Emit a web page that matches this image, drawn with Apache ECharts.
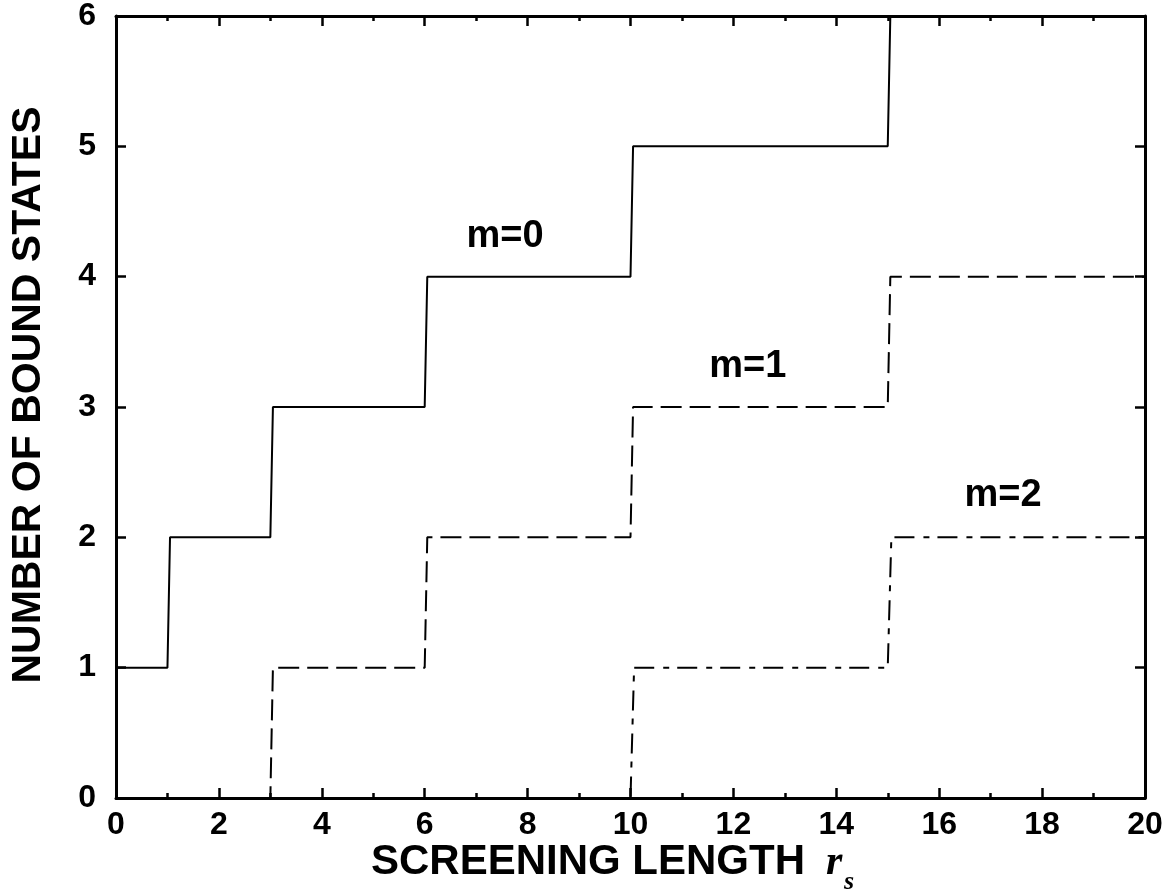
<!DOCTYPE html>
<html>
<head>
<meta charset="utf-8">
<script src="https://cdn.jsdelivr.net/npm/echarts@6/dist/echarts.min.js"></script>
<style>
html,body{margin:0;padding:0;background:#fff;}
#main{width:1176px;height:894px;}
</style>
</head>
<body>
<div id="main"></div>
<script>
// Data: number of bound states vs screening length r_s
var m0X = [0, 1.0, 1.05, 3.0, 3.05, 6.0, 6.05, 10.0, 10.05, 15.0, 15.05, 20];
var m0Y = [1, 1, 2, 2, 3, 3, 4, 4, 5, 5, 6, 6];
var m1X = [0, 3.0, 3.05, 6.0, 6.05, 10.0, 10.05, 15.0, 15.05, 20];
var m1Y = [0, 0, 1, 1, 2, 2, 3, 3, 4, 4];
var m2X = [0, 10.0, 10.07, 15.0, 15.07, 20];
var m2Y = [0, 0, 1, 1, 2, 2];
var curveLabels = ['m=0', 'm=1', 'm=2'];
var curveLabelX = [7.56, 12.28, 17.24];
var curveLabelY = [4.31, 3.31, 2.32];
var xTitle = 'SCREENING LENGTH';
var yTitle = 'NUMBER OF BOUND STATES';

var FONT = "'Liberation Sans', Arial, Helvetica, sans-serif";
function zip(xs, ys){ return xs.map(function(x,i){ return [x, ys[i]]; }); }

var tickStyle = {color:'#000', width:2.5};
function xAx(pos, showLabel){
  return {
    type:'value', min:0, max:20, interval:2, position:pos,
    axisLine:{show:true, onZero:false, lineStyle:{color:'#000', width:3}},
    axisTick:{show:true, inside:true, length:10, lineStyle:tickStyle},
    minorTick:{show:true, splitNumber:2, length:5, lineStyle:tickStyle},
    splitLine:{show:false}, minorSplitLine:{show:false},
    axisLabel:{show:showLabel, margin:11, fontSize:32, fontWeight:'bold', color:'#000', fontFamily:FONT}
  };
}
function yAx(pos, showLabel){
  return {
    type:'value', min:0, max:6, interval:1, position:pos,
    axisLine:{show:true, onZero:false, lineStyle:{color:'#000', width:3}},
    axisTick:{show:true, inside:true, length:10, lineStyle:tickStyle},
    splitLine:{show:false},
    axisLabel:{show:showLabel, margin:20, fontSize:32, fontWeight:'bold', color:'#000', fontFamily:FONT}
  };
}

var chart = echarts.init(document.getElementById('main'), null, {renderer:'canvas'});
chart.setOption({
  animation:false,
  backgroundColor:'#fff',
  grid:{left:116, right:31, top:14, bottom:96, containLabel:false},
  xAxis:[xAx('bottom', true), xAx('top', false)],
  yAxis:[yAx('left', true), yAx('right', false)],
  series:[
    {type:'line', name:'m=0', data:zip(m0X, m0Y), symbol:'none', silent:true,
     lineStyle:{color:'#000', width:2, type:'solid'}},
    {type:'line', name:'m=1', data:zip(m1X, m1Y), symbol:'none', silent:true,
     lineStyle:{color:'#000', width:2, type:[21, 8]}},
    {type:'line', name:'m=2', data:zip(m2X, m2Y), symbol:'none', silent:true,
     lineStyle:{color:'#000', width:2, type:[20, 9, 6, 8]}},
    {type:'scatter', symbolSize:0, silent:true, itemStyle:{opacity:1},
     data:curveLabels.map(function(t,i){ return {name:t, value:[curveLabelX[i], curveLabelY[i]]}; }),
     label:{show:true, position:'inside', formatter:'{b}', fontSize:38, fontWeight:'bold', color:'#000', opacity:1, fontFamily:FONT}}
  ],
  graphic:[
    {type:'text', x:29, y:395, rotation:Math.PI/2, silent:true,
     style:{text:yTitle, font:'bold 41px ' + FONT, fill:'#000', align:'center', verticalAlign:'middle', textAlign:'center', textVerticalAlign:'middle'}},
    {type:'text', x:371, y:862, silent:true,
     style:{text:xTitle, font:'bold 42px ' + FONT, fill:'#000', align:'left', verticalAlign:'middle', textAlign:'left', textVerticalAlign:'middle'}},
    {type:'text', x:826, y:863, silent:true,
     style:{text:'r', font:"italic bold 42px 'Liberation Serif', 'Times New Roman', serif", fill:'#000', align:'left', verticalAlign:'middle'}},
    {type:'text', x:844, y:882, silent:true,
     style:{text:'s', font:"italic bold 26px 'Liberation Serif', 'Times New Roman', serif", fill:'#000', align:'left', verticalAlign:'middle'}}
  ]
});
</script>
</body>
</html>
